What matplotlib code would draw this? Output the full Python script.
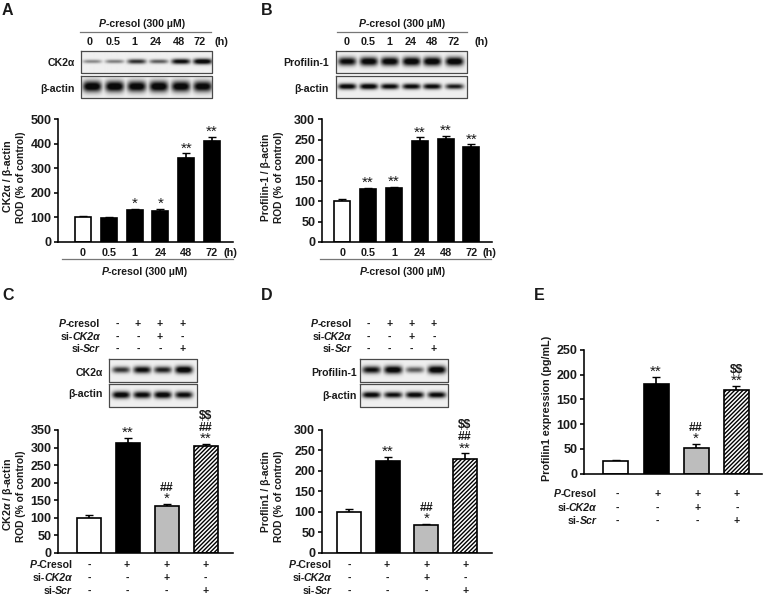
import numpy as np
import matplotlib
matplotlib.use('Agg')
import matplotlib.pyplot as plt

plt.rcParams['font.family'] = ['Liberation Sans', 'DejaVu Sans']
plt.rcParams['font.weight'] = 'bold'
plt.rcParams['mathtext.fontset'] = 'custom'
plt.rcParams['mathtext.rm'] = 'Liberation Sans:bold'
plt.rcParams['mathtext.it'] = 'Liberation Sans:italic:bold'
plt.rcParams['mathtext.bf'] = 'Liberation Sans:bold'
plt.rcParams['hatch.linewidth'] = 1.0

W, H = 770, 598
TXT = '#1a1a1a'

# labels, (text, italic) pieces
PCRESOL = [('P', True), ('-cresol (300 µM)', False)]
ROW_TOP = [[('P', True), ('-cresol', False)], [('si-', False), ('CK2α', True)], [('si-', False), ('Scr', True)]]
ROW_BOT = [[('P', True), ('-Cresol', False)], [('si-', False), ('CK2α', True)], [('si-', False), ('Scr', True)]]

# bar values
times = ['0', '0.5', '1', '24', '48', '72']
vals_a = [100, 99, 130, 127, 343, 410]
errs_a = [4, 4, 5, 8, 17, 18]
vals_b = [100, 130, 132, 247, 251, 232]
errs_b = [5, 2, 2, 8, 7, 6]
vals_c = [100, 314, 134, 303]
errs_c = [8, 13, 5, 8]
vals_d = [100, 225, 68, 228]
errs_d = [8, 9, 3, 15]
vals_e = [26, 181, 51, 170]
errs_e = [1, 14, 9, 8]

# significance marks, lowest first
sig_a = [[], [], ['*'], ['*'], ['**'], ['**']]
sig_b = [[], ['**'], ['**'], ['**'], ['**'], ['**']]
sig_c = [[], ['**'], ['*', '##'], ['**', '##', '$$']]
sig_d = [[], ['**'], ['*', '##'], ['**', '##', '$$']]
sig_e = [[], ['**'], ['*', '##'], ['**', '$$']]

# treatment rows
row_pc = ['-', '+', '+', '+']
row_si = ['-', '-', '+', '-']
row_scr = ['-', '-', '-', '+']

# blot band strength per lane
blot_a1 = [0.38, 0.42, 0.72, 0.55, 0.9, 1.0]
blot_a2 = [1.0, 1.0, 0.97, 1.0, 0.97, 0.95]
blot_b1 = [0.9, 0.97, 0.97, 1.0, 1.0, 1.0]
blot_b2 = [0.95, 0.97, 0.9, 0.9, 0.9, 0.8]
blot_c1 = [0.7, 0.88, 0.78, 1.0]
blot_c2 = [0.95, 0.9, 0.95, 0.88]
blot_d1 = [0.85, 0.98, 0.55, 1.0]
blot_d2 = [0.92, 0.85, 0.92, 0.9]

fig = plt.figure(figsize=(W / 100, H / 100), dpi=100)


def bar_panel(left, right, y0, ytop, ymax, ystep, centers, width, vals, errs, sigs, styles):
    ax = fig.add_axes([left / W, 1 - y0 / H, (right - left) / W, (y0 - ytop) / H])
    ax.set_xlim(left, right)
    ax.set_ylim(0, ymax)
    for c, v, e, st in zip(centers, vals, errs, styles):
        ax.errorbar(c, v, yerr=[[0], [e]], color='black', capsize=2.6, capthick=1.0, elinewidth=1.2, zorder=1)
        ax.bar(c, v, width=width, facecolor=st[0], edgecolor='black', hatch=st[1], linewidth=1.2, zorder=2)
    for c, v, e, s in zip(centers, vals, errs, sigs):
        for i, mark in enumerate(s):
            off = [1, 13, 25][i]
            if '*' in mark:
                fs, weight = 11, 'normal'
            else:
                fs, weight = 8.8, 'bold'
            ax.annotate(mark, (c, v + e), xytext=(0, off * 0.72), textcoords='offset points',
                        ha='center', va='baseline', fontsize=fs, color=TXT, parse_math=False,
                        fontweight=weight, annotation_clip=False)
    for sp in ['top', 'right']:
        ax.spines[sp].set_visible(False)
    for sp in ['left', 'bottom']:
        ax.spines[sp].set_linewidth(1.15)
    ax.set_xticks([])
    ax.set_yticks(np.arange(0, ymax + 1, ystep))
    ax.tick_params(axis='y', length=3.2, width=1.15, pad=1.5, labelsize=9, labelcolor=TXT)
    return ax


WHITE = ('white', None)
BLACK = ('black', None)
GRAY = ('#bdbdbd', None)
HATCH = ('white', '////////')
six = [WHITE] + [BLACK] * 5
four = [WHITE, BLACK, GRAY, HATCH]

cx_a = [83, 108.7, 134.7, 160.3, 186.3, 212]
cx_b = [342.3, 368, 394, 419.7, 445.7, 471.3]
cx_c = [89.3, 128, 167, 205.7]
cx_d = [348.7, 387.7, 426.3, 465]
cx_e = [615.7, 656, 696, 736.3]

bar_panel(58, 233, 242, 119, 500, 100, cx_a, 16, vals_a, errs_a, sig_a, six)
bar_panel(321.7, 492, 242, 119, 300, 50, cx_b, 16, vals_b, errs_b, sig_b, six)
bar_panel(58, 233, 552.7, 430, 350, 50, cx_c, 24, vals_c, errs_c, sig_c, four)
bar_panel(321.7, 492.3, 552.7, 430, 300, 50, cx_d, 24, vals_d, errs_d, sig_d, four)
bar_panel(584, 761.7, 473.7, 350, 250, 50, cx_e, 25, vals_e, errs_e, sig_e, four)

# overlay in pixel coordinates for texts and blots
ov = fig.add_axes([0, 0, 1, 1], zorder=10)
ov.patch.set_visible(False)
ov.axis('off')
ov.set_xlim(0, W)
ov.set_ylim(H, 0)
ov.set_autoscale_on(False)
rend = fig.canvas.get_renderer()


def blot(x0, x1, y0, y1, lanes, strengths, thick):
    xs = np.arange(x0, x1, 0.5)
    ys = np.arange(y0, y1, 0.5)
    xx, yy = np.meshgrid(xs, ys)
    ymid = (y0 + y1) / 2 - 0.8
    lane_w = (lanes[1] - lanes[0]) * 0.42
    dark = np.zeros_like(xx)
    for lx, s in zip(lanes, strengths):
        h = thick * (0.45 + 0.55 * s)
        band = np.exp(-((xx - lx) / lane_w) ** 4) * np.exp(-((yy - ymid) / h) ** 2)
        dark = np.maximum(dark, s * band)
    dark = np.clip(dark * 1.2, 0, 1)
    img = 0.94 - 0.9 * dark
    ov.imshow(img, extent=[x0, x1, y1, y0], cmap='gray', vmin=0, vmax=1, aspect='auto', interpolation='bilinear')
    ov.plot([x0, x1, x1, x0, x0], [y0, y0, y1, y1, y0], color='#4a4a4a', lw=0.9)


def txt(x, y, s, ha='center', fs=8, **kw):
    va = 'center' if 'rotation' in kw else 'center_baseline'
    return ov.text(x, y, s, ha=ha, va=va, fontsize=fs, color=TXT, **kw)


def mixed(x, y, parts, ha='center', fs=7.6):
    # pieces of upright and italic text set side by side
    items = [txt(0, y, s, ha='left', fs=fs, style='italic' if it else 'normal') for s, it in parts]
    widths = [t.get_window_extent(rend).width - 0.6 for t in items]
    total = sum(widths)
    start = x - total if ha == 'right' else x - total / 2
    for t, w in zip(items, widths):
        t.set_x(start)
        start += w


lanes_a = [91.7, 114, 136, 158, 180, 201.7]
lanes_b = [346.7, 368.3, 389.3, 411, 431.7, 454]
lanes_c = [120.7, 141.7, 162.3, 183.3]
lanes_d = [371, 392.7, 414.3, 436.3]

blot(80.7, 212, 50.7, 72.7, lanes_a, blot_a1, 2.8)
blot(80.7, 212, 76, 98, lanes_a, blot_a2, 5.5)
blot(335.7, 467.3, 50.7, 72.7, lanes_b, blot_b1, 4.4)
blot(335.7, 467.3, 76, 98, lanes_b, blot_b2, 3.0)
blot(108.7, 196.7, 359.3, 382, lanes_c, blot_c1, 3.8)
blot(108.7, 196.7, 384.3, 406.7, lanes_c, blot_c2, 3.6)
blot(359.7, 448.3, 359.3, 382, lanes_d, blot_d1, 4.0)
blot(359.7, 448.3, 384.3, 406.7, lanes_d, blot_d2, 3.2)

# panel letters
for x, y, s in [(2, 9, 'A'), (261, 9, 'B'), (2, 294, 'C'), (261, 294, 'D'), (534, 294, 'E')]:
    txt(x, y, s, ha='left', fs=11.5)

# headers of A and B
mixed(141.7, 22.7, PCRESOL)
ov.plot([80, 210.7], [32, 32], color='#777777', lw=0.9)
for x, s in zip([89.3, 113.3, 134, 156, 179, 200], times):
    txt(x, 41.3, s, fs=7.8)
txt(221.7, 41.3, '(h)', fs=7.8)
mixed(401.7, 22.7, PCRESOL)
ov.plot([336.7, 467.3], [32, 32], color='#777777', lw=0.9)
for x, s in zip([346.7, 368.3, 389, 410.3, 431.7, 454], times):
    txt(x, 41.3, s, fs=7.8)
txt(481.7, 41.3, '(h)', fs=7.8)

# blot labels
txt(75, 61.7, 'CK2α', ha='right', fs=7.6)
txt(75, 87.7, 'β-actin', ha='right', fs=7.6)
txt(328.7, 61.7, 'Profilin-1', ha='right', fs=7.6)
txt(328.7, 87.7, 'β-actin', ha='right', fs=7.6)
txt(102.7, 371.7, 'CK2α', ha='right', fs=7.6)
txt(102.7, 393.3, 'β-actin', ha='right', fs=7.6)
txt(356.7, 371.7, 'Profilin-1', ha='right', fs=7.6)
txt(356.7, 395, 'β-actin', ha='right', fs=7.6)

# below the axes of A and B
for x, s in zip(cx_a, times):
    txt(x, 251.7, s, fs=7.8)
txt(230, 251.7, '(h)', fs=7.8)
ov.plot([62, 233], [259, 259], color='#777777', lw=0.9)
mixed(144, 270.7, PCRESOL)
for x, s in zip(cx_b, times):
    txt(x, 251.7, s, fs=7.8)
txt(489.3, 251.7, '(h)', fs=7.8)
ov.plot([320, 491], [259, 259], color='#777777', lw=0.9)
mixed(402.3, 270.7, PCRESOL)

# y labels
txt(8.3, 176, 'CK2α / β-actin', fs=7.7, rotation=90)
txt(20.7, 177, 'ROD (% of control)', fs=7.4, rotation=90)
txt(266, 177, 'Profilin-1 / β-actin', fs=7.4, rotation=90)
txt(279, 177, 'ROD (% of control)', fs=7.4, rotation=90)
txt(8.3, 495, 'CK2$\\mathit{α}$ / β-actin', fs=7.7, rotation=90)
txt(20.7, 496.7, 'ROD (% of control)', fs=7.4, rotation=90)
txt(266, 491.7, 'Proflin1 / β-actin', fs=7.4, rotation=90)
txt(279, 496.7, 'ROD (% of control)', fs=7.4, rotation=90)
txt(546.7, 408, 'Profilin1 expression (pg/mL)', fs=7.75, rotation=90)


def sign_rows(xr, names, ys, xs, rows, fs=7.6):
    for name, y, row in zip(names, ys, rows):
        mixed(xr, y, name, ha='right', fs=fs)
        for x, s in zip(xs, row):
            txt(x, y, s, fs=fs)


rows = [row_pc, row_si, row_scr]
sign_rows(99.3, ROW_TOP, [322.7, 335.7, 348.3], [117.3, 138, 160, 182.3], rows)
sign_rows(351, ROW_TOP, [322.7, 335.7, 348.3], [368.3, 389.3, 411.7, 434], rows)
sign_rows(71.7, ROW_BOT, [564.3, 577.3, 590.3], [89.3, 127, 166.3, 205.7], rows)
sign_rows(331, ROW_BOT, [564.3, 577.3, 590.3], [349.3, 387, 426.3, 465.3], rows)
sign_rows(596, ROW_BOT, [493.3, 506.7, 520], [617.3, 657.3, 697.3, 737], rows)

fig.savefig('out.png', dpi=100)
